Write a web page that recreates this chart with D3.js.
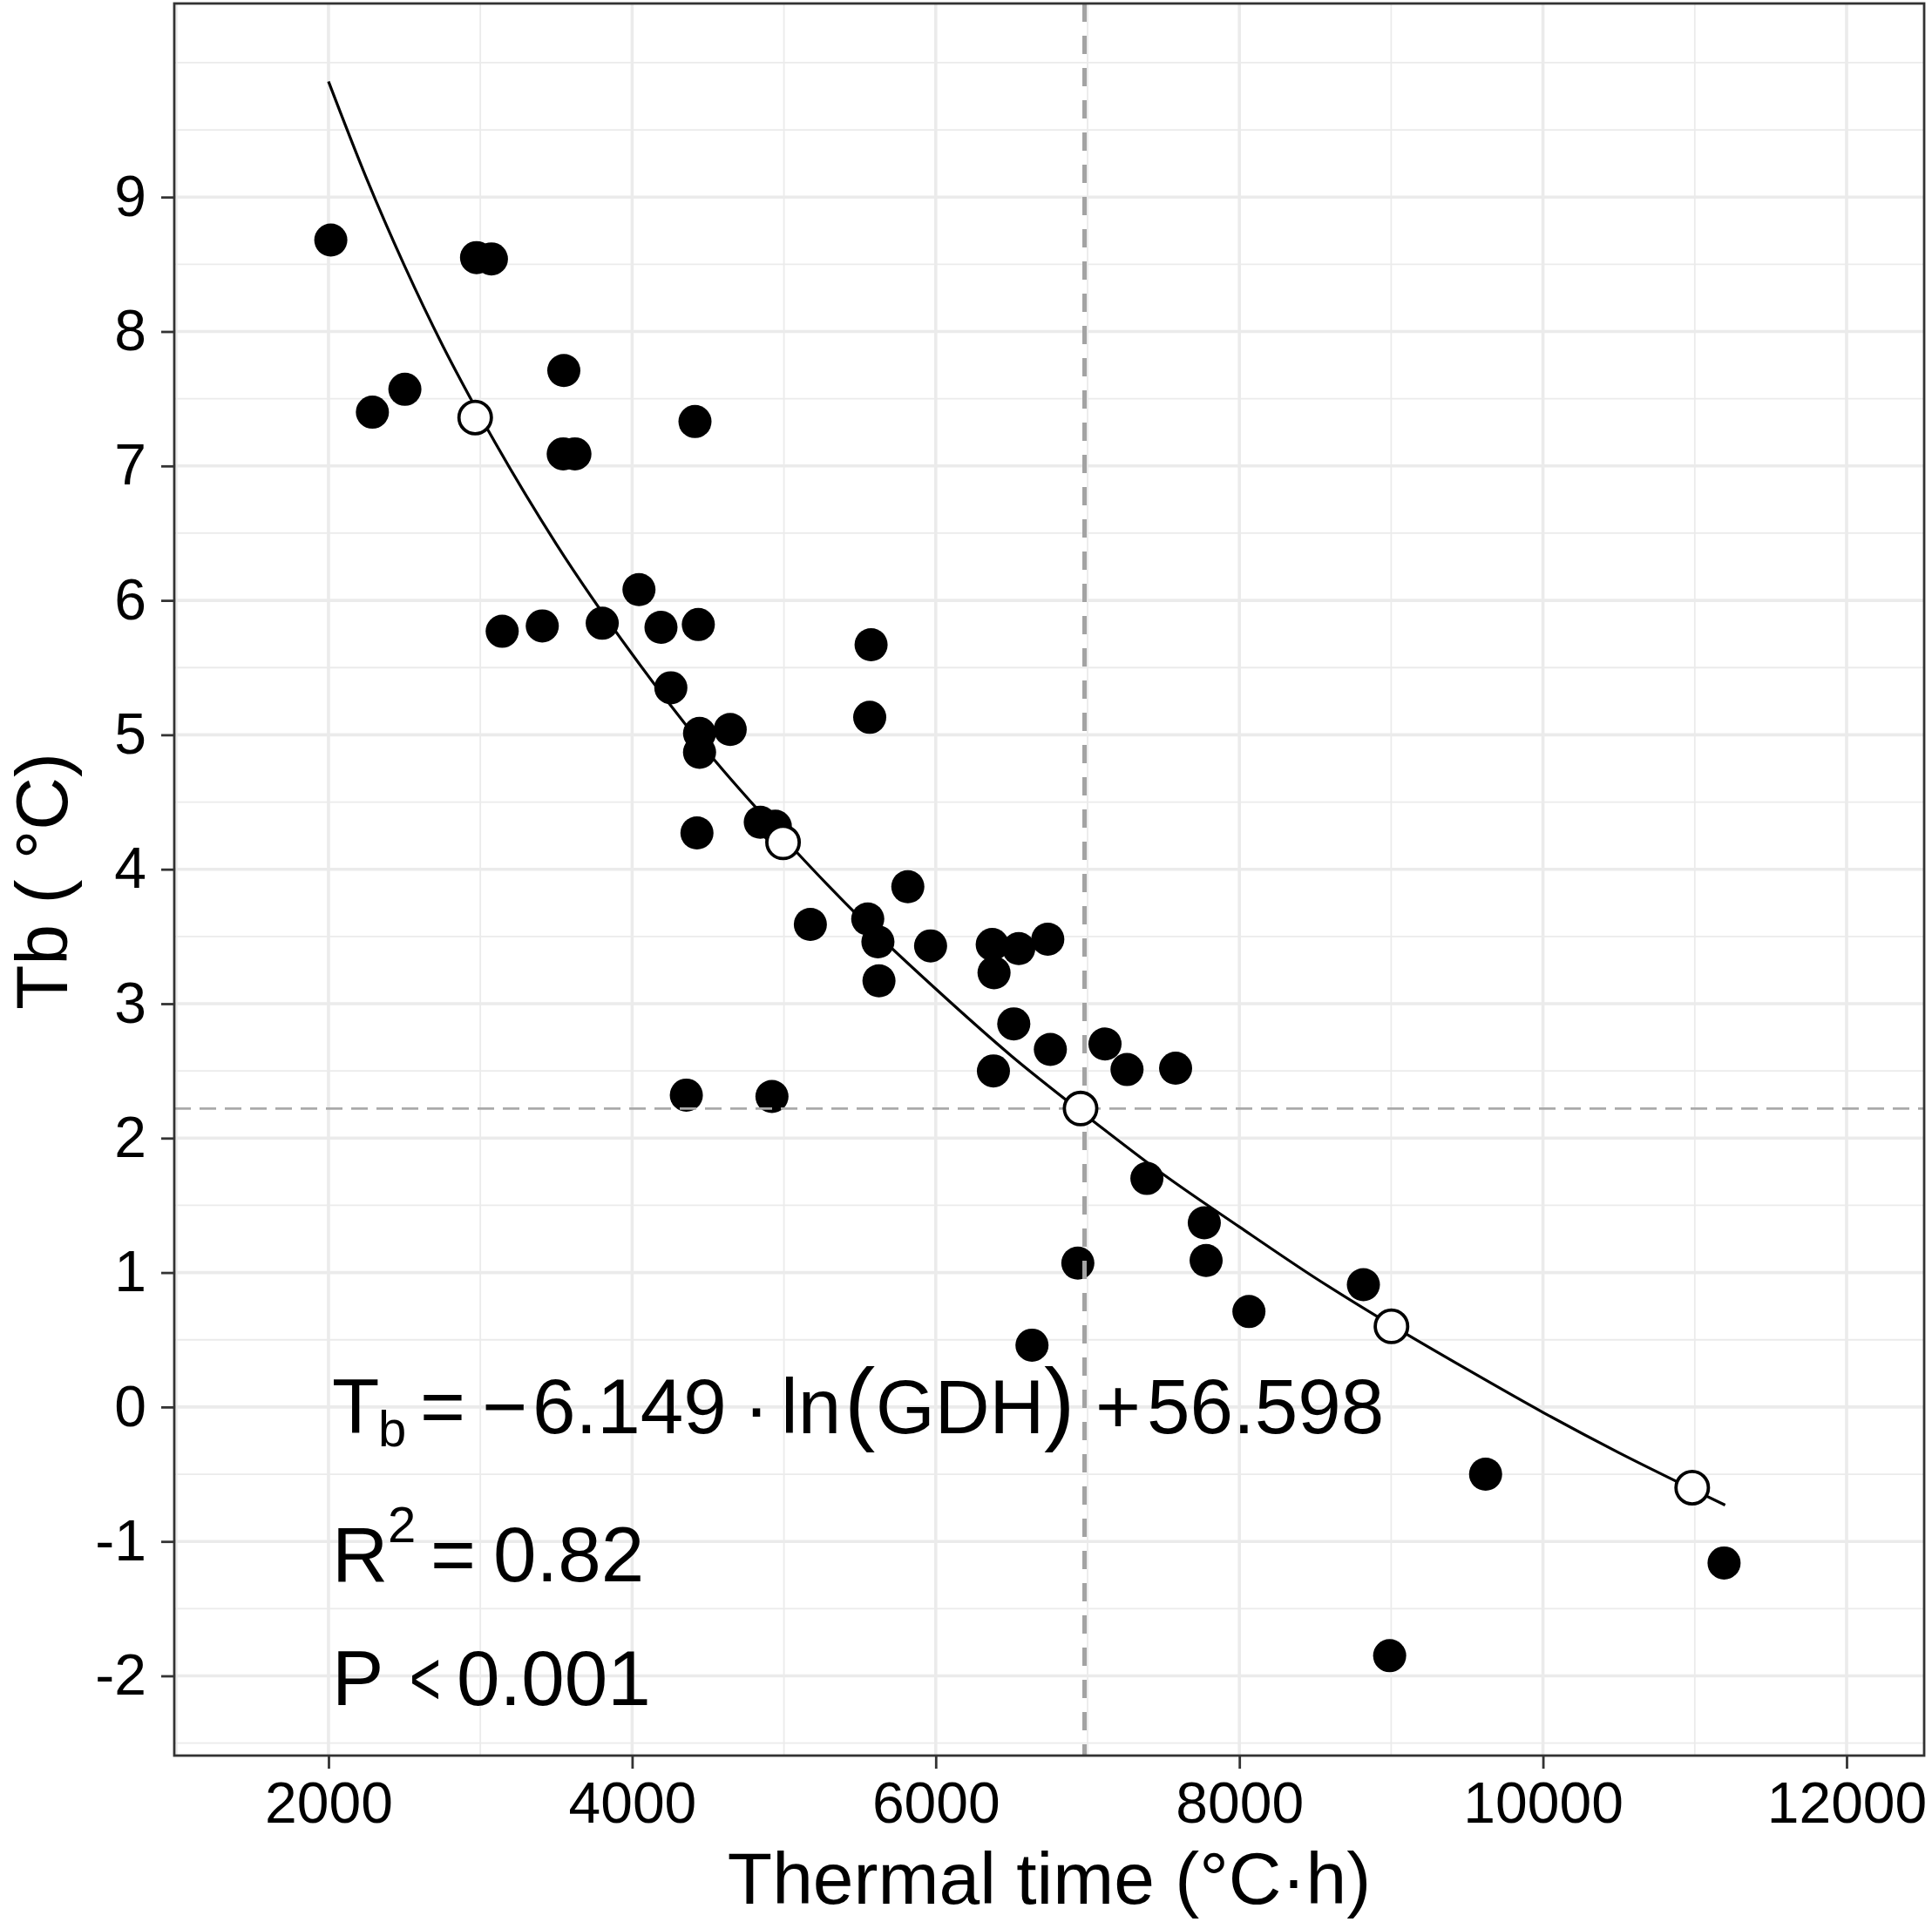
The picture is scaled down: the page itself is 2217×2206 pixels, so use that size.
<!DOCTYPE html>
<html lang="en">
<head>
  <meta charset="UTF-8">
  <title>Tb vs thermal time</title>
  <script src="https://d3js.org/d3.v7.min.js"></script>
  <style>
    body {
      margin: 0;
      padding: 0;
      background: #fff;
    }
    svg text {
      font-family: "Liberation Sans", Arial, sans-serif;
    }
  </style>
</head>
<body>
  <script>
    // observed points (thermal time, Tb)
    const obsX = [2015, 2289, 2503, 2975, 3073, 3144, 3408, 3550, 3546, 3623,
      3803, 4045, 4190, 4255, 4414, 4436, 4444, 4444, 4427, 4357,
      4646, 4844, 4943, 4921, 5174, 5552, 5565, 5574, 5619, 5626,
      5816, 5966, 6372, 6384, 6547, 6738, 6514, 6380, 6755, 6634,
      6936, 7115, 7260, 7580, 7391, 7769, 7781, 8063, 8817, 9622,
      11193, 8990];
    const obsY = [8.68, 7.40, 7.57, 8.55, 8.54, 5.77, 5.81, 7.71, 7.09, 7.09,
      5.83, 6.08, 5.80, 5.35, 7.33, 5.82, 5.01, 4.87, 4.27, 2.32,
      5.04, 4.35, 4.32, 2.31, 3.59, 3.63, 5.13, 5.67, 3.46, 3.17,
      3.87, 3.43, 3.44, 3.23, 3.41, 3.48, 2.85, 2.50, 2.66, 0.46,
      1.07, 2.70, 2.51, 2.52, 1.70, 1.37, 1.09, 0.71, 0.91, -0.50,
      -1.16, -1.85];

    // open circles on the fitted curve
    const openX = [2966, 4994, 6954, 9002, 10983];
    const openY = [7.36, 4.20, 2.22, 0.60, -0.60];

    // fitted curve
    const fitX = [2000, 2250, 2500, 2750, 3000, 3500, 4000, 4500, 5000, 5500, 6000,
      6500, 7000, 7500, 8000, 8500, 9000, 9500, 10000, 10500, 11000, 11200];
    const fitY = [9.86, 9.14, 8.49, 7.90, 7.37, 6.42, 5.60, 4.87, 4.23, 3.64, 3.11,
      2.61, 2.16, 1.73, 1.34, 0.96, 0.61, 0.28, -0.04, -0.34, -0.62, -0.73];

    // reference lines
    const refX = 6980;
    const refY = 2.22;

    const xTicks = [2000, 4000, 6000, 8000, 10000, 12000];
    const xMinor = [1000, 3000, 5000, 7000, 9000, 11000];
    const yTicks = [-2, -1, 0, 1, 2, 3, 4, 5, 6, 7, 8, 9];
    const yMinor = [-2.5, -1.5, -0.5, 0.5, 1.5, 2.5, 3.5, 4.5, 5.5, 6.5, 7.5, 8.5, 9.5, 10];

    const width = 2217;
    const height = 2206;
    const pL = 200, pR = 2208, pT = 4, pB = 2015;

    const x = d3.scaleLinear().domain([984, 12511]).range([pL, pR]);
    const y = d3.scaleLinear().domain([-2.593, 10.44]).range([pB, pT]);

    const svg = d3.select("body").append("svg")
      .attr("width", width)
      .attr("height", height)
      .attr("viewBox", [0, 0, width, height]);

    svg.append("defs").append("clipPath")
      .attr("id", "panel")
      .append("rect")
      .attr("x", pL)
      .attr("y", pT)
      .attr("width", pR - pL)
      .attr("height", pB - pT);

    const panel = svg.append("g").attr("clip-path", "url(#panel)");

    // grid
    const grid = panel.append("g").attr("stroke", "#ebebeb");
    grid.append("g").selectAll("line").data(xMinor).join("line")
      .attr("x1", d => x(d)).attr("x2", d => x(d))
      .attr("y1", pT).attr("y2", pB)
      .attr("stroke-width", 1.8);
    grid.append("g").selectAll("line").data(yMinor).join("line")
      .attr("y1", d => y(d)).attr("y2", d => y(d))
      .attr("x1", pL).attr("x2", pR)
      .attr("stroke-width", 1.8);
    grid.append("g").selectAll("line").data(xTicks).join("line")
      .attr("x1", d => x(d)).attr("x2", d => x(d))
      .attr("y1", pT).attr("y2", pB)
      .attr("stroke-width", 3.6);
    grid.append("g").selectAll("line").data(yTicks).join("line")
      .attr("y1", d => y(d)).attr("y2", d => y(d))
      .attr("x1", pL).attr("x2", pR)
      .attr("stroke-width", 3.6);

    // observed points
    panel.append("g").selectAll("circle")
      .data(d3.zip(obsX, obsY))
      .join("circle")
      .attr("cx", d => x(d[0]))
      .attr("cy", d => y(d[1]))
      .attr("r", 19)
      .attr("fill", "#000");

    // dashed reference lines
    panel.append("line")
      .attr("x1", pL).attr("x2", pR)
      .attr("y1", y(refY)).attr("y2", y(refY))
      .attr("stroke", "#aaaaaa")
      .attr("stroke-width", 2.7)
      .attr("stroke-dasharray", "19 10");
    panel.append("line")
      .attr("x1", x(refX)).attr("x2", x(refX))
      .attr("y1", pT).attr("y2", pB)
      .attr("stroke", "#a3a3a3")
      .attr("stroke-width", 5)
      .attr("stroke-dasharray", "21 16");

    // fitted curve
    const line = d3.line()
      .x(d => x(d[0]))
      .y(d => y(d[1]))
      .curve(d3.curveMonotoneX);
    panel.append("path")
      .datum(d3.zip(fitX, fitY))
      .attr("d", line)
      .attr("fill", "none")
      .attr("stroke", "#000")
      .attr("stroke-width", 3.2);

    panel.append("g").selectAll("circle")
      .data(d3.zip(openX, openY))
      .join("circle")
      .attr("cx", d => x(d[0]))
      .attr("cy", d => y(d[1]))
      .attr("r", 18.6)
      .attr("fill", "#fff")
      .attr("stroke", "#000")
      .attr("stroke-width", 3.8);

    // border
    svg.append("rect")
      .attr("x", pL).attr("y", pT)
      .attr("width", pR - pL).attr("height", pB - pT)
      .attr("fill", "none")
      .attr("stroke", "#333333")
      .attr("stroke-width", 2.8);

    // axes
    const xAxis = svg.append("g")
      .attr("transform", `translate(0,${pB})`)
      .call(d3.axisBottom(x).tickValues(xTicks).tickSize(15).tickPadding(15).tickFormat(d => String(d)));
    const yAxis = svg.append("g")
      .attr("transform", `translate(${pL},0)`)
      .call(d3.axisLeft(y).tickValues(yTicks).tickSize(15).tickPadding(17).tickFormat(d => String(d)));

    [xAxis, yAxis].forEach(g => {
      g.select(".domain").remove();
      g.attr("font-family", null).attr("font-size", null);
      g.selectAll(".tick line").attr("stroke", "#333333").attr("stroke-width", 2.8);
      g.selectAll(".tick text").attr("fill", "#000").attr("font-size", 66);
    });

    // axis titles
    svg.append("text")
      .attr("x", (pL + pR) / 2)
      .attr("y", 2185)
      .attr("text-anchor", "middle")
      .attr("font-size", 84)
      .text("Thermal time (°C·h)");

    svg.append("text")
      .attr("transform", `translate(77,${(pT + pB) / 2 + 2}) rotate(-90)`)
      .attr("text-anchor", "middle")
      .attr("font-size", 84)
      .text("Tb ( °C)");

    // annotation: [text, dx, size, dy, anchor, squeezed width]
    const annoX = 381;
    const annoLines = [
      {
        base: 1645, parts: [
          ["T", 0, 89, 0], ["b", 53, 58, 15], ["=", 101, 89, 0], ["\u2212", 172, 89, 0],
          ["6.149", 230, 89, 0], ["\u00b7", 487, 89, 0, "middle"], ["ln", 515, 89, 0],
          ["(", 588, 106, 0], ["GDH", 624, 87, 0], [")", 817, 106, 0],
          ["+", 876, 89, 0], ["56.598", 935, 89, 0]
        ]
      },
      {
        base: 1815, parts: [
          ["R", 0, 89, 0], ["2", 64, 58, -45], ["=", 113, 89, 0], ["0.82", 185, 89, 0]
        ]
      },
      {
        base: 1957, parts: [
          ["P", 0, 89, 0], ["<", 89, 89, 0, "start", 36], ["0.001", 143, 89, 0]
        ]
      }
    ];

    const anno = svg.append("g").attr("fill", "#000");
    annoLines.forEach(l => {
      anno.append("g").selectAll("text")
        .data(l.parts)
        .join("text")
        .attr("x", d => annoX + d[1])
        .attr("y", d => l.base + d[3])
        .attr("font-size", d => d[2])
        .attr("text-anchor", d => d[4] || "start")
        .attr("textLength", d => d[5] || null)
        .attr("lengthAdjust", d => d[5] ? "spacingAndGlyphs" : null)
        .text(d => d[0]);
    });
  </script>
</body>
</html>
